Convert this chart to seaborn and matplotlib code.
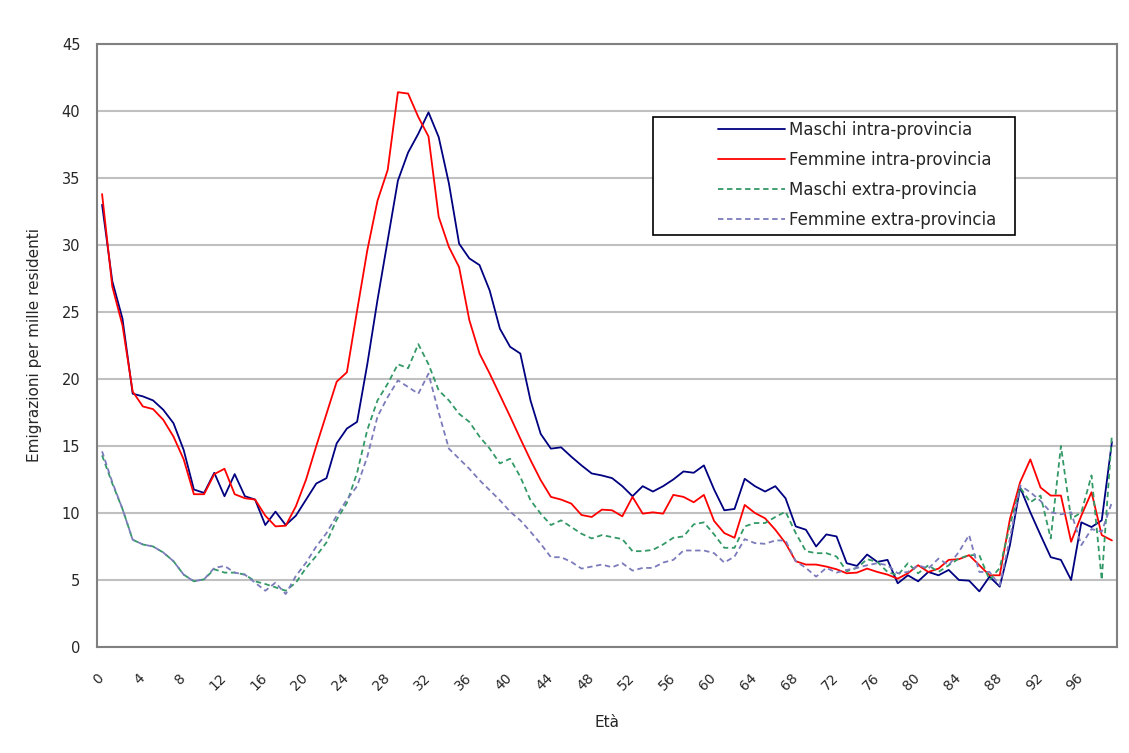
import matplotlib
matplotlib.use("Agg")
import matplotlib.pyplot as plt
from matplotlib.patches import Rectangle
import seaborn as sns

# data: emigration rate per 1000 residents by age (0-99)
ages = list(range(100))

maschi_intra = [33.0, 27.3, 24.5, 18.9, 18.7, 18.4, 17.7, 16.7, 14.7, 11.75,
                11.5, 13.0, 11.25, 12.9, 11.25, 11.0, 9.1, 10.1, 9.1, 9.8,
                11.0, 12.2, 12.6, 15.2, 16.3, 16.8, 21.1, 25.9, 30.35, 34.8,
                36.9, 38.3, 39.9, 38.05, 34.6, 30.1, 29.0, 28.5, 26.6, 23.75,
                22.4, 21.9, 18.4, 15.9, 14.8, 14.9, 14.2, 13.55, 12.95, 12.8,
                12.6, 12.0, 11.25, 12.0, 11.6, 12.0, 12.5, 13.1, 13.0, 13.55,
                11.75, 10.2, 10.3, 12.55, 12.0, 11.6, 12.0, 11.1, 9.0, 8.75,
                7.5, 8.4, 8.25, 6.25, 6.05, 6.9, 6.35, 6.5, 4.75, 5.35,
                4.9, 5.6, 5.35, 5.75, 5.0, 4.95, 4.15, 5.25, 4.5, 7.6,
                11.9, 10.05, 8.35, 6.7, 6.5, 5.0, 9.3, 8.95, 9.45, 15.3]

femmine_intra = [33.8, 26.9, 24.0, 19.06, 17.95, 17.75, 16.95, 15.7, 14.0, 11.4,
                 11.4, 12.9, 13.3, 11.4, 11.1, 11.0, 9.8, 9.0, 9.05, 10.5,
                 12.5, 15.0, 17.4, 19.8, 20.5, 25.1, 29.6, 33.3, 35.6, 41.4,
                 41.3, 39.55, 38.1, 32.1, 29.85, 28.35, 24.4, 21.9, 20.4, 18.8,
                 17.2, 15.55, 13.95, 12.45, 11.2, 11.0, 10.7, 9.85, 9.7, 10.25,
                 10.2, 9.75, 11.2, 9.95, 10.05, 9.95, 11.35, 11.2, 10.8, 11.35,
                 9.4, 8.5, 8.15, 10.6, 10.0, 9.6, 8.75, 7.75, 6.4, 6.15,
                 6.15, 6.0, 5.8, 5.5, 5.55, 5.85, 5.6, 5.4, 5.1, 5.5,
                 6.1, 5.6, 5.85, 6.5, 6.55, 6.85, 6.1, 5.35, 5.35, 9.55,
                 12.3, 14.0, 11.9, 11.3, 11.3, 7.85, 9.8, 11.55, 8.35, 7.95]

maschi_extra = [14.3, 12.2, 10.3, 8.0, 7.65, 7.5, 7.05, 6.4, 5.4, 4.9,
                5.05, 5.8, 5.55, 5.55, 5.4, 4.9, 4.7, 4.45, 4.2, 4.8,
                5.9, 6.8, 7.8, 9.5, 10.75, 13.0, 16.2, 18.4, 19.65, 21.1,
                20.8, 22.6, 21.1, 19.15, 18.4, 17.4, 16.8, 15.7, 14.8, 13.7,
                14.05, 12.7, 10.95, 9.95, 9.1, 9.45, 8.95, 8.45, 8.1, 8.35,
                8.2, 8.05, 7.15, 7.15, 7.25, 7.65, 8.15, 8.25, 9.15, 9.3,
                8.4, 7.4, 7.4, 9.0, 9.25, 9.25, 9.7, 10.1, 8.5, 7.15,
                7.0, 7.0, 6.75, 5.65, 5.9, 6.55, 6.35, 5.6, 5.35, 6.25,
                5.5, 6.1, 5.6, 6.1, 6.6, 6.85, 6.85, 5.0, 5.9, 9.1,
                11.9, 10.8, 11.3, 8.1, 15.0, 9.55, 10.05, 12.8, 5.0, 15.85]

femmine_extra = [14.6, 12.3, 10.3, 8.0, 7.65, 7.5, 7.05, 6.4, 5.4, 4.9,
                 5.05, 5.9, 6.05, 5.55, 5.4, 4.8, 4.2, 4.8, 3.95, 5.3,
                 6.3, 7.5, 8.5, 9.8, 11.0, 12.0, 14.2, 17.2, 18.65, 19.9,
                 19.4, 18.9, 20.4, 17.5, 14.8, 14.05, 13.3, 12.45, 11.7, 10.95,
                 10.1, 9.45, 8.6, 7.7, 6.7, 6.7, 6.35, 5.85, 6.0, 6.15,
                 5.95, 6.25, 5.7, 5.9, 5.9, 6.3, 6.5, 7.2, 7.2, 7.2,
                 7.0, 6.3, 6.75, 8.05, 7.75, 7.7, 7.95, 7.95, 6.4, 5.9,
                 5.25, 5.9, 5.55, 5.75, 5.9, 6.1, 6.25, 6.1, 5.5, 5.6,
                 6.1, 5.85, 6.6, 6.1, 7.1, 8.35, 5.6, 5.6, 4.6, 8.1,
                 12.05, 11.55, 10.9, 10.05, 9.9, 10.05, 7.6, 8.8, 8.6, 10.8]

series_names = ["Maschi intra-provincia", "Femmine intra-provincia",
                "Maschi extra-provincia", "Femmine extra-provincia"]
tick_ages = ages[::4]

sns.set_style("white")
plt.rcParams['font.family'] = ['DejaVu Sans']

fig = plt.figure(figsize=(11.29, 7.53), dpi=100)
ax = fig.add_axes([0.0859, 0.1408, 0.9035, 0.8008])

dash = (0, (3, 2))
sns.lineplot(x=ages, y=maschi_intra, color='#000080', lw=1.3, ax=ax, label=series_names[0])
sns.lineplot(x=ages, y=femmine_intra, color='#ff0000', lw=1.3, ax=ax, label=series_names[1])
sns.lineplot(x=ages, y=maschi_extra, color='#339966', lw=1.3, linestyle=dash, ax=ax, label=series_names[2])
sns.lineplot(x=ages, y=femmine_extra, color='#7b7bbb', lw=1.3, linestyle=dash, ax=ax, label=series_names[3])

ax.set_xlim(-0.5, 99.5)
ax.set_ylim(0, 45)
ax.set_yticks(range(0, 46, 5))
ax.yaxis.grid(True, color='#c0c0c0', lw=1.5)
ax.set_axisbelow(True)

# category axis: tick marks between categories, every 4 ages
ax.set_xticks([a - 0.5 for a in tick_ages] + [99.5],
              labels=[str(a) for a in tick_ages] + [''])
ax.tick_params(axis='x', length=5, width=1, color='#404040', direction='out',
               pad=12, labelsize=10)
for lab in ax.get_xticklabels():
    lab.set_rotation(45)
    lab.set_ha('right')
    lab.set_va('top')
    lab.set_rotation_mode('anchor')
ax.tick_params(axis='y', length=4, color='#404040', labelsize=10.5, pad=8)

for sp in ax.spines.values():
    sp.set_color('#808080')
    sp.set_linewidth(1.5)

ax.set_xlabel('Età', fontsize=11, labelpad=16)
ax.set_ylabel('Emigrazioni per mille residenti', fontsize=11, labelpad=14)

# legend box like the original
ax.add_patch(Rectangle((0.545, 0.683), 0.355, 0.196, transform=ax.transAxes,
                       facecolor='white', edgecolor='black', lw=1.2, zorder=5))
leg = ax.legend(loc='upper left', bbox_to_anchor=(0.609, 0.873), frameon=False,
                fontsize=12, handlelength=4.0, handletextpad=0.25, labelspacing=0.72,
                borderpad=0, borderaxespad=0)
leg.set_zorder(6)

fig.savefig('out.png', dpi=100)
